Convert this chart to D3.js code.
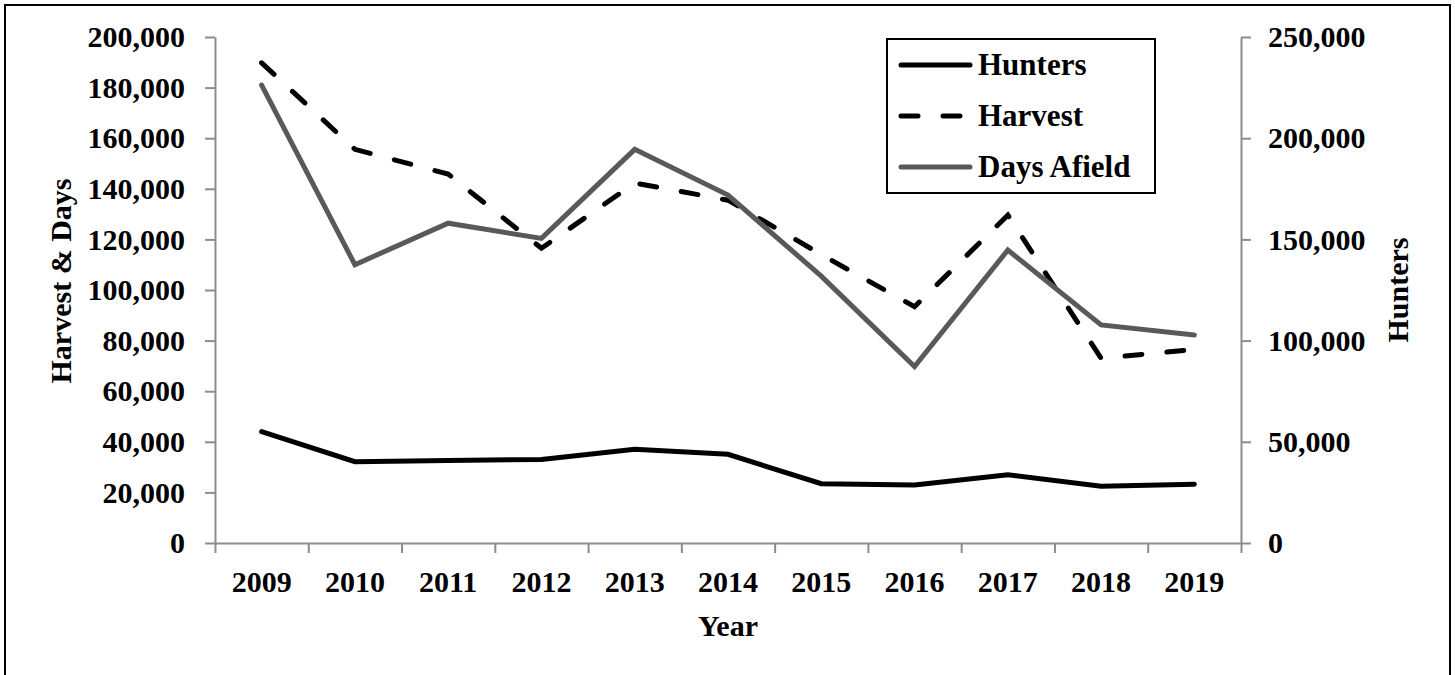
<!DOCTYPE html>
<html>
<head>
<meta charset="utf-8">
<title>Hunters, Harvest and Days Afield</title>
<script src="https://d3js.org/d3.v7.min.js"></script>
<style>
  body { margin: 0; background: #fff; }
  text { font-family: "Liberation Serif", "Times New Roman", serif; font-weight: bold; }
</style>
</head>
<body>
<div id="chart"></div>
<script>
// data
var years = ["2009", "2010", "2011", "2012", "2013", "2014", "2015", "2016", "2017", "2018", "2019"];
var hunters = [55000, 40200, 40700, 41300, 46300, 43800, 29300, 28700, 33700, 28000, 29000];
var harvest = [189800, 155600, 145800, 116500, 142300, 135500, 114000, 93400, 129600, 73000, 76500];
var daysAfield = [181000, 110000, 126400, 120400, 155600, 137500, 105500, 69700, 115800, 86200, 82200];
var leftTicks = [0, 20000, 40000, 60000, 80000, 100000, 120000, 140000, 160000, 180000, 200000];
var rightTicks = [0, 50000, 100000, 150000, 200000, 250000];

var W = 1455, H = 675;
var margin = {top: 37, right: 214, bottom: 132, left: 215};
var width = W - margin.left - margin.right,
    height = H - margin.top - margin.bottom;

var svg = d3.select("#chart").append("svg")
    .attr("width", W)
    .attr("height", H);

// outer frame
svg.append("rect")
    .attr("x", 5).attr("y", 5)
    .attr("width", 1445).attr("height", 700)
    .attr("fill", "none").attr("stroke", "#000").attr("stroke-width", 2);

var g = svg.append("g")
    .attr("transform", "translate(" + margin.left + "," + margin.top + ")");

var x = d3.scaleBand().domain(years).range([0, width]).padding(0);
var xIdx = d3.scaleLinear().domain([0, years.length]).range([0, width]);
var yL = d3.scaleLinear().domain([0, 200000]).range([height, 0]);
var yR = d3.scaleLinear().domain([0, 250000]).range([height, 0]);
var fmt = d3.format(",");
var axisColor = "#8c8c8c";
var fs = "30px";

function styleAxis(sel) {
  sel.selectAll("path, line").attr("stroke", axisColor).attr("stroke-width", 2);
  sel.selectAll("text").attr("fill", "#000").style("font-size", fs)
    .style("font-family", "'Liberation Serif', 'Times New Roman', serif").style("font-weight", "bold");
}

// left axis
var la = g.append("g")
    .call(d3.axisLeft(yL).tickValues(leftTicks).tickFormat(fmt).tickSize(10).tickSizeOuter(0).tickPadding(20));
styleAxis(la);

// right axis
var ra = g.append("g")
    .attr("transform", "translate(" + width + ",0)")
    .call(d3.axisRight(yR).tickValues(rightTicks).tickFormat(fmt).tickSize(10).tickSizeOuter(0).tickPadding(17));
styleAxis(ra);

// bottom axis: tick marks at band edges, labels at centres
var ba = g.append("g")
    .attr("transform", "translate(0," + height + ")")
    .call(d3.axisBottom(xIdx).tickValues(d3.range(years.length + 1)).tickFormat("").tickSize(10).tickSizeOuter(0));
styleAxis(ba);
var bl = g.append("g")
    .attr("transform", "translate(0," + height + ")")
    .call(d3.axisBottom(x).tickSize(0).tickPadding(28));
bl.select(".domain").remove();
styleAxis(bl);

// axis titles
svg.append("text")
    .attr("transform", "translate(71,281) rotate(-90)")
    .attr("text-anchor", "middle")
    .style("font-size", fs)
    .text("Harvest & Days");
svg.append("text")
    .attr("transform", "translate(1408,290) rotate(-90)")
    .attr("text-anchor", "middle")
    .style("font-size", fs)
    .text("Hunters");
svg.append("text")
    .attr("x", margin.left + width / 2).attr("y", 636)
    .attr("text-anchor", "middle")
    .style("font-size", fs)
    .text("Year");

function cx(i) { return x(years[i]) + x.bandwidth() / 2; }

var lineL = d3.line().x(function(d, i) { return cx(i); }).y(function(d) { return yL(d); });
var lineR = d3.line().x(function(d, i) { return cx(i); }).y(function(d) { return yR(d); });

var series = [
  {name: "Hunters", data: hunters, line: lineR, color: "#000", dash: null},
  {name: "Harvest", data: harvest, line: lineL, color: "#000", dash: "17,25"},
  {name: "Days Afield", data: daysAfield, line: lineL, color: "#595959", dash: null}
];

series.forEach(function(s) {
  g.append("path")
    .datum(s.data)
    .attr("d", s.line)
    .attr("fill", "none")
    .attr("stroke", s.color)
    .attr("stroke-width", 5)
    .attr("stroke-linecap", "round")
    .attr("stroke-dasharray", s.dash);
});

// legend
var lg = svg.append("g").attr("transform", "translate(887,39)");
lg.append("rect")
    .attr("width", 268).attr("height", 154)
    .attr("fill", "#fff").attr("stroke", "#000").attr("stroke-width", 2);
series.forEach(function(s, i) {
  var yy = 26 + i * 51;
  lg.append("line")
    .attr("x1", 14).attr("x2", 83).attr("y1", yy).attr("y2", yy)
    .attr("stroke", s.color).attr("stroke-width", 5)
    .attr("stroke-linecap", "round")
    .attr("stroke-dasharray", s.dash);
  lg.append("text")
    .attr("x", 91).attr("y", yy + 10)
    .style("font-size", "31px")
    .text(s.name);
});
</script>
</body>
</html>
